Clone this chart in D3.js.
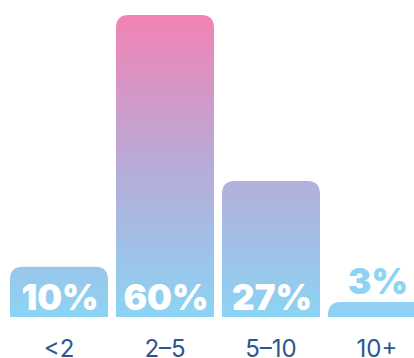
<!DOCTYPE html>
<html>
<head>
<meta charset="utf-8">
<script src="https://cdn.jsdelivr.net/npm/d3@7"></script>
<style>
  html, body { margin: 0; padding: 0; background: #ffffff; }
  svg { display: block; }
</style>
</head>
<body>
<svg id="chart" width="414" height="358"></svg>
<script>
// Years-of-experience buckets and their share of respondents (%)
const categories = ["<2", "2–5", "5–10", "10+"];
const values = [10, 60, 27, 3];
const valueLabels = ["10%", "60%", "27%", "3%"];

const width = 414, height = 358;
const baseline = 317;
const svg = d3.select("#chart");

const x = d3.scaleBand()
  .domain(categories)
  .range([10, 426])
  .paddingInner(8 / 106)
  .paddingOuter(0);

const y = d3.scaleLinear()
  .domain([0, 60])
  .range([baseline, 15]);

// Shared vertical gradient across all bars: pink at the top, sky blue at the bottom
const defs = svg.append("defs");
const grad = defs.append("linearGradient")
  .attr("id", "barGrad")
  .attr("gradientUnits", "userSpaceOnUse")
  .attr("x1", 0).attr("x2", 0)
  .attr("y1", y(60)).attr("y2", baseline);
grad.append("stop").attr("offset", "0%").attr("stop-color", "#f283b4");
grad.append("stop").attr("offset", "50%").attr("stop-color", "#b8abd8");
grad.append("stop").attr("offset", "100%").attr("stop-color", "#8bd4f4");

// Bar with rounded top corners only
function topRoundedRect(x0, y0, w, h, r) {
  r = Math.min(r, h, w / 2);
  return `M${x0},${y0 + h}` +
    `V${y0 + r}` +
    `Q${x0},${y0} ${x0 + r},${y0}` +
    `H${x0 + w - r}` +
    `Q${x0 + w},${y0} ${x0 + w},${y0 + r}` +
    `V${y0 + h}Z`;
}

const data = categories.map((c, i) => ({ cat: c, value: values[i], label: valueLabels[i] }));

svg.append("g")
  .selectAll("path")
  .data(data)
  .join("path")
  .attr("d", d => topRoundedRect(x(d.cat), y(d.value), x.bandwidth(), baseline - y(d.value), 13))
  .attr("fill", "url(#barGrad)");

// Value labels: inside tall bars in white, above short bars in blue
svg.append("g")
  .selectAll("text")
  .data(data)
  .join("text")
  .attr("x", d => x(d.cat) + x.bandwidth() / 2 + 1)
  .attr("y", d => d.value >= 8 ? 310 : y(d.value) - 8)
  .attr("text-anchor", "middle")
  .attr("font-family", "Inter, 'Open Sans', sans-serif")
  .attr("font-weight", 900)
  .attr("font-size", 35)
  .attr("fill", d => d.value >= 8 ? "#ffffff" : "#8bd4f4")
  .text(d => d.label);

// Category axis below the bars
const axis = svg.append("g")
  .attr("transform", `translate(0,${baseline})`)
  .call(d3.axisBottom(x).tickSize(0).tickPadding(0));
axis.select(".domain").remove();
axis.selectAll("text")
  .attr("y", 40)
  .attr("dy", 0)
  .attr("font-family", "Inter, 'Noto Sans', sans-serif")
  .attr("font-size", 24)
  .attr("font-weight", 400)
  .attr("fill", "#2c5690");
</script>
</body>
</html>
